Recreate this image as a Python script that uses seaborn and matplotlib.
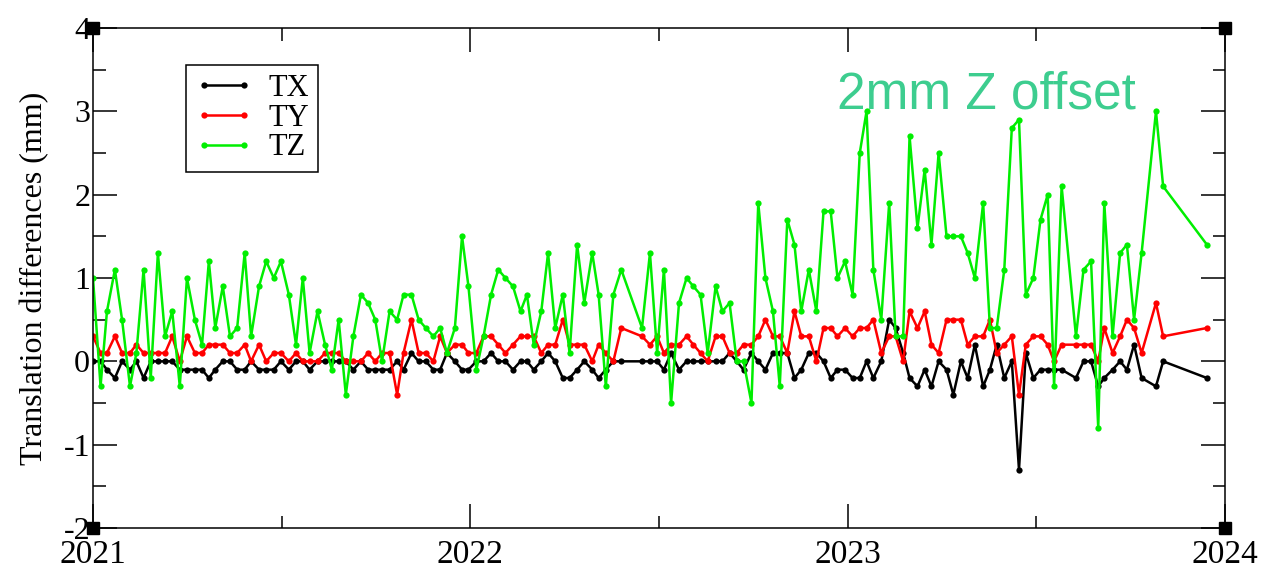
import matplotlib
matplotlib.use("Agg")
import matplotlib.pyplot as plt
from matplotlib.ticker import MultipleLocator
import seaborn as sns

# epoch of each solution (decimal year)
epoch = [
    2021.000, 2021.020, 2021.037, 2021.058, 2021.077, 2021.098, 2021.115, 2021.134,
    2021.153, 2021.172, 2021.191, 2021.210, 2021.230, 2021.249, 2021.270, 2021.289,
    2021.307, 2021.324, 2021.344, 2021.363, 2021.382, 2021.402, 2021.419, 2021.440,
    2021.459, 2021.479, 2021.498, 2021.519, 2021.538, 2021.556, 2021.574, 2021.595,
    2021.615, 2021.633, 2021.651, 2021.670, 2021.690, 2021.710, 2021.729, 2021.748,
    2021.766, 2021.786, 2021.806, 2021.823, 2021.844, 2021.863, 2021.882, 2021.902,
    2021.920, 2021.938, 2021.959, 2021.978, 2021.995, 2022.016, 2022.035, 2022.055,
    2022.074, 2022.093, 2022.113, 2022.133, 2022.150, 2022.168, 2022.188, 2022.206,
    2022.225, 2022.245, 2022.263, 2022.283, 2022.302, 2022.323, 2022.340, 2022.359,
    2022.379, 2022.400, 2022.455, 2022.476, 2022.495, 2022.513, 2022.532, 2022.553,
    2022.573, 2022.591, 2022.610, 2022.629, 2022.650, 2022.668, 2022.687, 2022.706,
    2022.724, 2022.745, 2022.763, 2022.782, 2022.802, 2022.820, 2022.840, 2022.859,
    2022.877, 2022.897, 2022.917, 2022.936, 2022.955, 2022.973, 2022.993, 2023.013,
    2023.032, 2023.050, 2023.068, 2023.089, 2023.110, 2023.127, 2023.147, 2023.164,
    2023.185, 2023.204, 2023.222, 2023.241, 2023.262, 2023.280, 2023.300, 2023.318,
    2023.337, 2023.359, 2023.377, 2023.395, 2023.415, 2023.435, 2023.454, 2023.472,
    2023.492, 2023.511, 2023.530, 2023.547, 2023.567, 2023.605, 2023.625, 2023.645,
    2023.664, 2023.680, 2023.702, 2023.722, 2023.740, 2023.759, 2023.779, 2023.817,
    2023.836, 2023.952,
]

# translation differences (mm)
tx = [
    0.0, 0.0, -0.1, -0.2, 0.0, -0.1, 0.0, -0.2,
    0.0, 0.0, 0.0, 0.0, -0.1, -0.1, -0.1, -0.1,
    -0.2, -0.1, 0.0, 0.0, -0.1, -0.1, 0.0, -0.1,
    -0.1, -0.1, 0.0, -0.1, 0.0, 0.0, -0.1, 0.0,
    0.0, 0.0, 0.0, 0.0, -0.1, 0.0, -0.1, -0.1,
    -0.1, -0.1, 0.0, -0.1, 0.1, 0.0, 0.0, -0.1,
    -0.1, 0.1, 0.0, -0.1, -0.1, 0.0, 0.0, 0.1,
    0.0, 0.0, -0.1, 0.0, 0.0, -0.1, 0.0, 0.1,
    0.0, -0.2, -0.2, -0.1, 0.0, -0.1, -0.2, -0.1,
    0.0, 0.0, 0.0, 0.0, 0.0, -0.1, 0.1, -0.1,
    0.0, 0.0, 0.0, 0.0, 0.0, 0.0, 0.1, 0.0,
    -0.1, 0.1, 0.0, -0.1, 0.1, 0.1, 0.1, -0.2,
    -0.1, 0.1, 0.1, 0.0, -0.2, -0.1, -0.1, -0.2,
    -0.2, 0.0, -0.2, 0.0, 0.5, 0.4, 0.1, -0.2,
    -0.3, -0.1, -0.3, 0.0, -0.1, -0.4, 0.0, -0.2,
    0.2, -0.3, -0.1, 0.2, -0.2, 0.0, -1.3, 0.1,
    -0.2, -0.1, -0.1, -0.1, -0.1, -0.2, 0.0, 0.0,
    -0.3, -0.2, -0.1, 0.0, -0.1, 0.2, -0.2, -0.3,
    0.0, -0.2,
]
ty = [
    0.3, 0.1, 0.1, 0.3, 0.1, 0.1, 0.2, 0.1,
    0.1, 0.1, 0.1, 0.3, 0.0, 0.3, 0.1, 0.1,
    0.2, 0.2, 0.2, 0.1, 0.1, 0.2, 0.0, 0.2,
    0.0, 0.1, 0.1, 0.0, 0.1, 0.0, 0.0, 0.0,
    0.1, 0.1, 0.1, 0.0, 0.0, 0.0, 0.1, 0.0,
    0.1, 0.1, -0.4, 0.1, 0.5, 0.1, 0.1, 0.0,
    0.3, 0.1, 0.2, 0.2, 0.1, 0.1, 0.3, 0.3,
    0.2, 0.1, 0.2, 0.3, 0.3, 0.3, 0.1, 0.2,
    0.2, 0.5, 0.2, 0.2, 0.2, 0.0, 0.2, 0.1,
    0.0, 0.4, 0.3, 0.2, 0.3, 0.1, 0.2, 0.2,
    0.3, 0.2, 0.1, 0.0, 0.3, 0.3, 0.1, 0.1,
    0.2, 0.2, 0.3, 0.5, 0.3, 0.3, 0.1, 0.6,
    0.3, 0.3, 0.0, 0.4, 0.4, 0.3, 0.4, 0.3,
    0.4, 0.4, 0.5, 0.1, 0.3, 0.3, 0.0, 0.6,
    0.4, 0.6, 0.2, 0.1, 0.5, 0.5, 0.5, 0.2,
    0.3, 0.3, 0.5, 0.1, 0.2, 0.3, -0.4, 0.2,
    0.3, 0.3, 0.2, 0.0, 0.2, 0.2, 0.2, 0.2,
    0.0, 0.4, 0.1, 0.3, 0.5, 0.4, 0.1, 0.7,
    0.3, 0.4,
]
tz = [
    1.0, -0.3, 0.6, 1.1, 0.5, -0.3, 0.1, 1.1,
    -0.2, 1.3, 0.3, 0.6, -0.3, 1.0, 0.5, 0.2,
    1.2, 0.4, 0.9, 0.3, 0.4, 1.3, 0.3, 0.9,
    1.2, 1.0, 1.2, 0.8, 0.2, 1.0, 0.1, 0.6,
    0.2, -0.1, 0.5, -0.4, 0.3, 0.8, 0.7, 0.5,
    0.0, 0.6, 0.5, 0.8, 0.8, 0.5, 0.4, 0.3,
    0.4, 0.1, 0.4, 1.5, 0.9, -0.1, 0.3, 0.8,
    1.1, 1.0, 0.9, 0.6, 0.8, 0.2, 0.6, 1.3,
    0.4, 0.8, 0.1, 1.4, 0.7, 1.3, 0.8, -0.3,
    0.8, 1.1, 0.4, 1.3, 0.1, 1.1, -0.5, 0.7,
    1.0, 0.9, 0.8, 0.1, 0.9, 0.6, 0.7, 0.0,
    0.0, -0.5, 1.9, 1.0, 0.6, -0.3, 1.7, 1.4,
    0.6, 1.1, 0.6, 1.8, 1.8, 1.0, 1.2, 0.8,
    2.5, 3.0, 1.1, 0.5, 1.9, 0.3, 0.3, 2.7,
    1.6, 2.3, 1.4, 2.5, 1.5, 1.5, 1.5, 1.3,
    1.0, 1.9, 0.4, 0.4, 1.1, 2.8, 2.9, 0.8,
    1.0, 1.7, 2.0, -0.3, 2.1, 0.3, 1.1, 1.2,
    -0.8, 1.9, 0.3, 1.3, 1.4, 0.5, 1.3, 3.0,
    2.1, 1.4,
]

series = {"TX": (tx, "#000000"), "TY": (ty, "#ff0000"), "TZ": (tz, "#00ee00")}

sns.set_style("ticks")
plt.rcParams["font.family"] = ["Liberation Serif", "DejaVu Serif"]
plt.rcParams["text.color"] = "black"
plt.rcParams["axes.labelcolor"] = "black"

fig = plt.figure(figsize=(12.81, 5.77), dpi=100)
ax = fig.add_axes([0.0726, 0.0849, 0.8837, 0.8666])

for name, (vals, col) in series.items():
    sns.lineplot(x=epoch, y=vals, ax=ax, color=col, label=name,
                 marker="o", markersize=4.5, markeredgewidth=0,
                 linewidth=1.8, sort=False, errorbar=None)

ax.set_xlim(2021, 2024)
ax.set_ylim(-2, 4)
ax.xaxis.set_major_locator(MultipleLocator(1))
ax.xaxis.set_minor_locator(MultipleLocator(0.5))
ax.yaxis.set_major_locator(MultipleLocator(1))
ax.yaxis.set_minor_locator(MultipleLocator(0.5))
ax.xaxis.set_major_formatter(plt.FuncFormatter(lambda v, p: f"{v:.0f}"))
ax.yaxis.set_major_formatter(plt.FuncFormatter(lambda v, p: f"{v:.0f}"))
ax.tick_params(which="both", direction="in", top=True, right=True, width=1.1,
               colors="black", labelcolor="black")
ax.tick_params(which="major", length=17)
ax.tick_params(which="minor", length=9)
ax.tick_params(axis="x", labelsize=24, pad=8)
ax.tick_params(axis="y", labelsize=23, pad=2)
for s in ax.spines.values():
    s.set_linewidth(1.1)
    s.set_color("black")

ax.set_ylabel("Translation differences (mm)", fontsize=23, labelpad=10)

leg = ax.legend(loc="upper left", bbox_to_anchor=(0.082, 0.926), borderaxespad=0,
                numpoints=2, fontsize=22, handlelength=1.9, handletextpad=0.5,
                labelspacing=0.02, borderpad=0.3, fancybox=False, framealpha=1)
leg.get_frame().set_edgecolor("black")
leg.get_frame().set_linewidth(1.1)

ax.text(0.789, 0.865, "2mm Z offset", transform=ax.transAxes, ha="center", va="center",
        fontsize=37, color="#3dcd8f", family=["Liberation Sans", "DejaVu Sans"])

# corner handles of the graph frame
ax.plot([0, 1, 0, 1], [0, 0, 1, 1], "s", color="black", markersize=9,
        transform=ax.transAxes, clip_on=False)

fig.savefig("out.png", dpi=100)
